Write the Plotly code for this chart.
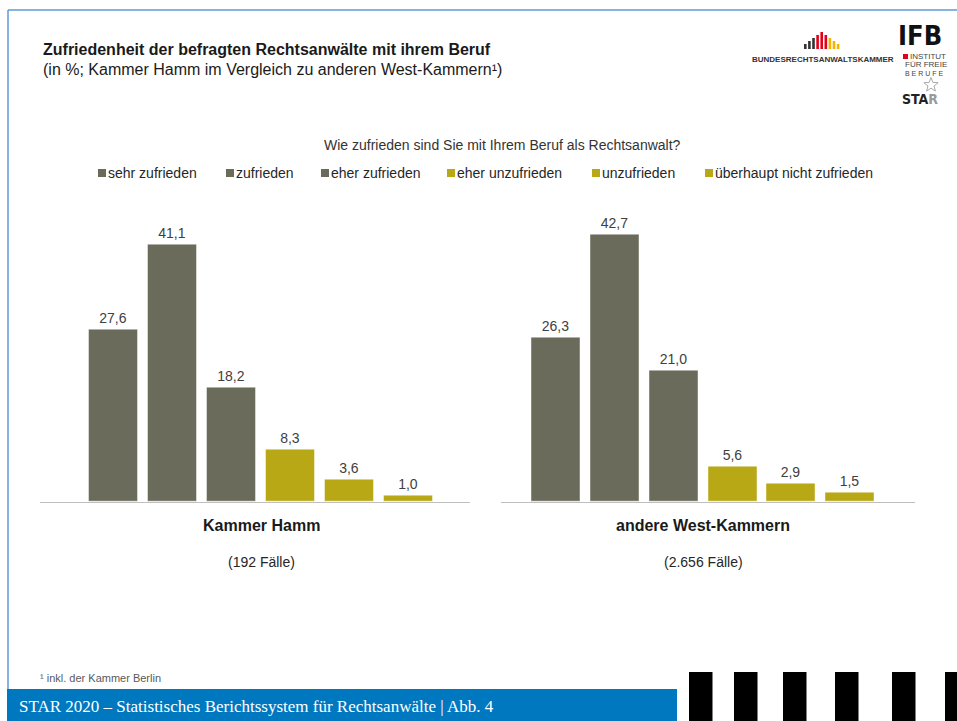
import math
import plotly.graph_objects as go

# ---------------- data ----------------
categories = ["sehr zufrieden", "zufrieden", "eher zufrieden",
              "eher unzufrieden", "unzufrieden", "überhaupt nicht zufrieden"]
hamm_values = [27.6, 41.1, 18.2, 8.3, 3.6, 1.0]
west_values = [26.3, 42.7, 21.0, 5.6, 2.9, 1.5]
panel_names = ["Kammer Hamm", "andere West-Kammern"]
panel_cases = ["(192 Fälle)", "(2.656 Fälle)"]
question = "Wie zufrieden sind Sie mit Ihrem Beruf als Rechtsanwalt?"
title = "Zufriedenheit der befragten Rechtsanwälte mit ihrem Beruf"
subtitle = "(in %; Kammer Hamm im Vergleich zu anderen West-Kammern¹)"
footnote = "¹ inkl. der Kammer Berlin"
footer = "STAR 2020 – Statistisches Berichtssystem für Rechtsanwälte | Abb. 4"

# ---------------- style ----------------
W, H = 957, 721
GRAY = "#6b6b5b"
OLIVE = "#b8a816"
bar_colors = [GRAY, GRAY, GRAY, OLIVE, OLIVE, OLIVE]
FONT = "Arial, Liberation Sans, sans-serif"
TXT = "#262626"


def px(x):
    return x / W


def py(y):
    return 1 - y / H


def fmt(v):
    return f"{v:.1f}".replace(".", ",")


xs = list(range(len(categories)))

fig = go.Figure()
for i, vals in enumerate([hamm_values, west_values]):
    fig.add_trace(go.Bar(
        x=xs, y=vals,
        xaxis="x" if i == 0 else "x2", yaxis="y",
        width=0.832,
        marker=dict(color=bar_colors, line=dict(color="rgba(255,255,255,0.45)", width=1)),
        text=[fmt(v) for v in vals],
        textposition="outside",
        textfont=dict(family=FONT, size=14, color="#404040"),
        cliponaxis=False,
        hoverinfo="skip",
        showlegend=False,
    ))

base_y = 501.7
scale = 6.245  # px per percent
ymax = 45
y_dom = [py(base_y), py(base_y - ymax * scale)]

axis_common = dict(showline=True, linecolor="#bfbfbf", linewidth=1,
                   showticklabels=False, showgrid=False, zeroline=False,
                   ticks="", fixedrange=True)

fig.update_layout(
    width=W, height=H, autosize=False,
    margin=dict(l=0, r=0, t=0, b=0),
    paper_bgcolor="white", plot_bgcolor="white",
    font=dict(family=FONT, color=TXT),
    bargap=0,
    xaxis=dict(domain=[px(40), px(470)], range=[-1.253, 6.048], anchor="y", **axis_common),
    xaxis2=dict(domain=[px(500.5), px(915)], range=[-0.94, 6.097], anchor="y", **axis_common),
    yaxis=dict(domain=y_dom, range=[0, ymax], visible=False, fixedrange=True, anchor="x"),
)

shapes = []
ann = []

# frame lines
shapes.append(dict(type="line", xref="paper", yref="paper", x0=px(8), x1=px(957),
                   y0=py(10), y1=py(10), line=dict(color="#5b9bd5", width=1.5)))
shapes.append(dict(type="line", xref="paper", yref="paper", x0=px(8), x1=px(8),
                   y0=py(10), y1=py(690), line=dict(color="#5b9bd5", width=1.5)))
# footer bar
shapes.append(dict(type="rect", xref="paper", yref="paper", x0=px(7), x1=px(677),
                   y0=py(721), y1=py(689), fillcolor="#0078c0", line=dict(width=0)))
for x0 in [689, 734, 783, 835, 892, 945]:
    shapes.append(dict(type="rect", xref="paper", yref="paper", x0=px(x0), x1=px(x0 + 23.5),
                       y0=py(721), y1=py(672), fillcolor="black", line=dict(width=0)))

# titles
ann.append(dict(text=f"<b>{title}</b>", xref="paper", yref="paper", x=px(41), y=py(50),
                xanchor="left", yanchor="middle", showarrow=False,
                font=dict(size=16, color="#1a1a1a")))
ann.append(dict(text=subtitle, xref="paper", yref="paper", x=px(41), y=py(70),
                xanchor="left", yanchor="middle", showarrow=False,
                font=dict(size=16, color="#1a1a1a")))
ann.append(dict(text=question, xref="paper", yref="paper", x=px(502), y=py(145),
                xanchor="center", yanchor="middle", showarrow=False,
                font=dict(size=14, color="#333333")))

# legend (manual)
legend_x = [98, 226, 321, 447, 592, 705]
for cat, col, lx in zip(categories, bar_colors, legend_x):
    shapes.append(dict(type="rect", xref="paper", yref="paper", x0=px(lx), x1=px(lx + 8),
                       y0=py(177), y1=py(169), fillcolor=col, line=dict(width=0)))
    ann.append(dict(text=cat, xref="paper", yref="paper", x=px(lx + 7.5), y=py(173),
                    xanchor="left", yanchor="middle", showarrow=False,
                    font=dict(size=14, color="#262626")))

# panel labels
for i, (name, cases) in enumerate(zip(panel_names, panel_cases)):
    xr = "x" if i == 0 else "x2"
    ann.append(dict(text=f"<b>{name}</b>", xref=xr, yref="paper", x=2.5, y=py(525),
                    xanchor="center", yanchor="middle", showarrow=False,
                    font=dict(size=16, color="#1a1a1a")))
    ann.append(dict(text=cases, xref=xr, yref="paper", x=2.5, y=py(562),
                    xanchor="center", yanchor="middle", showarrow=False,
                    font=dict(size=14, color="#262626")))

# footnote & footer
ann.append(dict(text=footnote, xref="paper", yref="paper", x=px(38), y=py(678),
                xanchor="left", yanchor="middle", showarrow=False,
                font=dict(size=11, color="#595959")))
ann.append(dict(text=footer, xref="paper", yref="paper", x=px(17), y=py(706),
                xanchor="left", yanchor="middle", showarrow=False,
                font=dict(family="Liberation Serif, serif", size=17, color="white")))

# BRAK logo
logo_h = [5, 8, 11, 14, 17, 14, 11, 8, 5]
logo_c = ["#333333", "#333333", "#333333", "#e2001a", "#e2001a", "#e2001a",
          "#f5b400", "#f5b400", "#f5b400"]
for k, (hh, cc) in enumerate(zip(logo_h, logo_c)):
    x0 = 804 + k * 4.1
    shapes.append(dict(type="rect", xref="paper", yref="paper", x0=px(x0), x1=px(x0 + 2.6),
                       y0=py(49), y1=py(49 - hh), fillcolor=cc, line=dict(width=0)))
ann.append(dict(text="<b>BUNDESRECHTSANWALTSKAMMER</b>", xref="paper", yref="paper",
                x=px(823), y=py(60), xanchor="center", yanchor="middle", showarrow=False,
                font=dict(size=8, color="#333333")))
# IFB logo
ann.append(dict(text="<b>IFB</b>", xref="paper", yref="paper", x=px(920), y=py(36),
                xanchor="center", yanchor="middle", showarrow=False,
                font=dict(size=27, color="#111111", family="DejaVu Sans Condensed, Liberation Sans Narrow, Arial")))
shapes.append(dict(type="rect", xref="paper", yref="paper", x0=px(903), x1=px(908),
                   y0=py(59), y1=py(54), fillcolor="#e2001a", line=dict(width=0)))
ann.append(dict(text="INSTITUT", xref="paper", yref="paper", x=px(908), y=py(56.5),
                xanchor="left", yanchor="middle", showarrow=False,
                font=dict(size=8, color="#444444")))
ann.append(dict(text="FÜR FREIE", xref="paper", yref="paper", x=px(903), y=py(65),
                xanchor="left", yanchor="middle", showarrow=False,
                font=dict(size=8, color="#444444")))
ann.append(dict(text="B E R U F E", xref="paper", yref="paper", x=px(903), y=py(73.5),
                xanchor="left", yanchor="middle", showarrow=False,
                font=dict(size=7, color="#444444")))
# outline star (decoration)
cx, cy, ro, ri = 931, 85, 7.5, 3.2
pts = []
for k in range(10):
    r = ro if k % 2 == 0 else ri
    a = -math.pi / 2 + k * math.pi / 5
    pts.append((px(cx + r * math.cos(a)), py(cy + r * math.sin(a))))
star_path = "M" + " L".join(f"{x:.5f},{y:.5f}" for x, y in pts) + " Z"
shapes.append(dict(type="path", xref="paper", yref="paper", path=star_path,
                   line=dict(color="#aaaaaa", width=1), fillcolor="rgba(0,0,0,0)"))
ann.append(dict(text="<b>STA</b><b><span style='color:#999999'>R</span></b>",
                xref="paper", yref="paper", x=px(920), y=py(99),
                xanchor="center", yanchor="middle", showarrow=False,
                font=dict(size=14, color="#222222", family="DejaVu Sans Condensed, Liberation Sans Narrow, Arial")))

fig.update_layout(shapes=shapes, annotations=ann)

fig.write_html("out.html", config={"displayModeBar": False},
               post_script="document.body.style.margin='0';document.body.style.overflow='hidden';")
